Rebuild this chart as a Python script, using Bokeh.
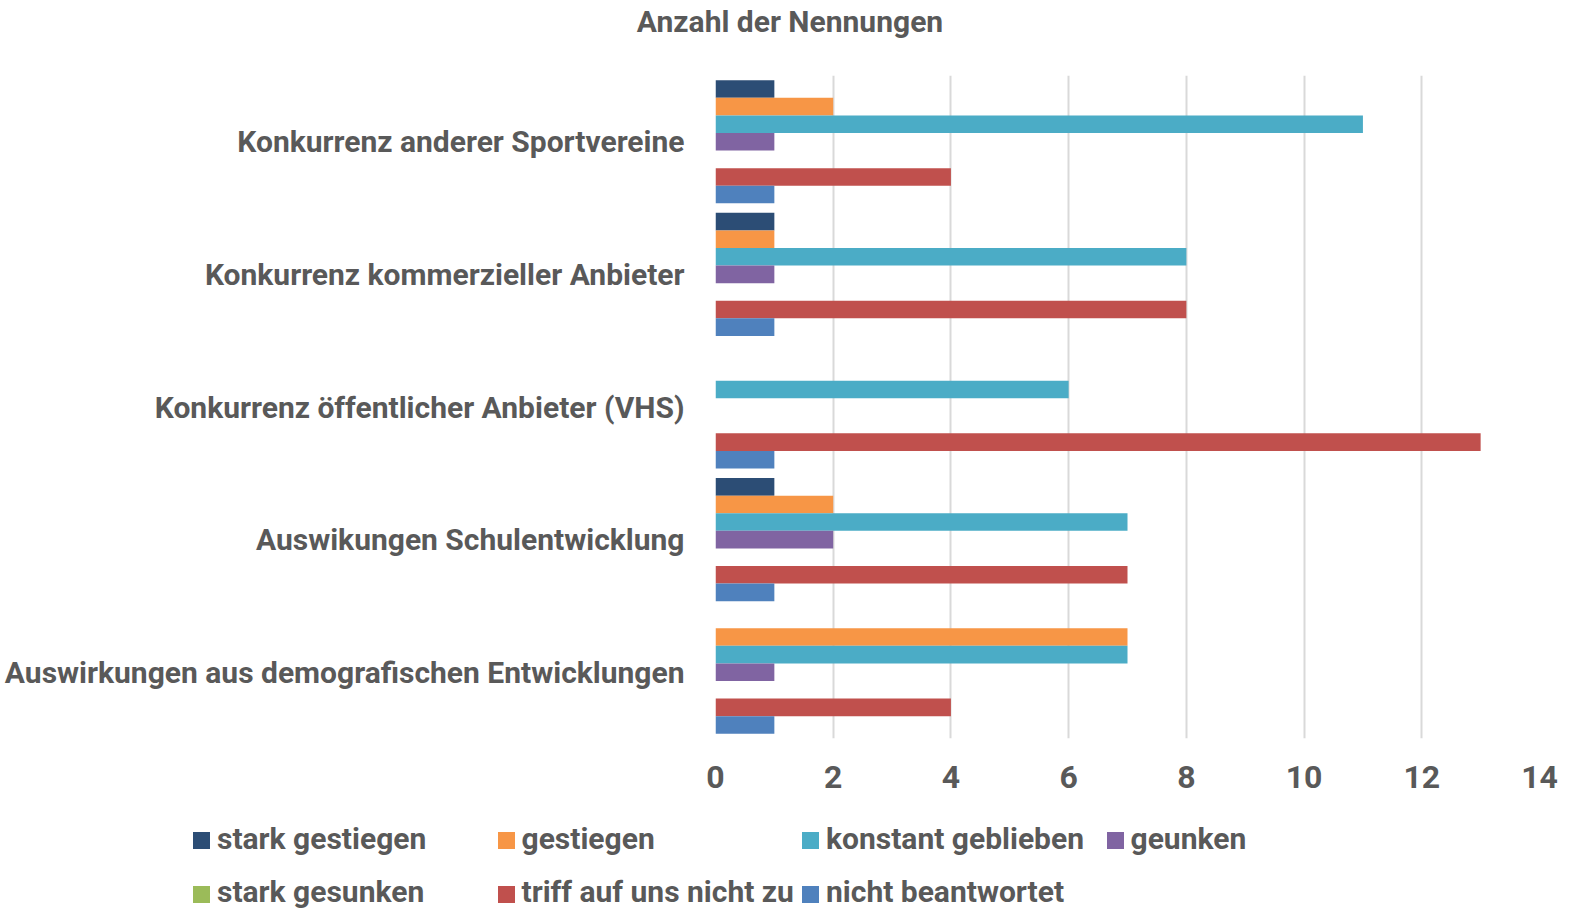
from bokeh.plotting import figure
from bokeh.layouts import column
from bokeh.models import FactorRange, Range1d, FixedTicker, ColumnDataSource, Div
from bokeh.transform import dodge
from bokeh.embed import file_html
from bokeh.resources import INLINE

categories = [
    "Konkurrenz anderer Sportvereine",
    "Konkurrenz kommerzieller Anbieter",
    "Konkurrenz öffentlicher Anbieter (VHS)",
    "Auswikungen Schulentwicklung",
    "Auswirkungen aus demografischen Entwicklungen",
]
series_names = [
    "stark gestiegen",
    "gestiegen",
    "konstant geblieben",
    "geunken",
    "stark gesunken",
    "triff auf uns nicht zu",
    "nicht beantwortet",
]
stark_gestiegen = [1, 1, 0, 1, 0]
gestiegen = [2, 1, 0, 2, 7]
konstant_geblieben = [11, 8, 6, 7, 7]
geunken = [1, 1, 0, 2, 1]
stark_gesunken = [0, 0, 0, 0, 0]
triff_nicht_zu = [4, 8, 13, 7, 4]
nicht_beantwortet = [1, 1, 1, 1, 1]
series_values = [stark_gestiegen, gestiegen, konstant_geblieben, geunken,
                 stark_gesunken, triff_nicht_zu, nicht_beantwortet]
colors = ["#2C4D75", "#F79646", "#4BACC6", "#8064A2", "#9BBB59", "#C0504D", "#4F81BD"]
x_ticks = [0, 2, 4, 6, 8, 10, 12, 14]
title_text = "Anzahl der Nennungen"

FONT = "Roboto"
TXT = "#595959"

# ---- title ----
title_div = Div(
    text=('<div style="width:1558px;margin-left:11px;text-align:center;'
          'font-family:Roboto;font-weight:bold;font-size:30px;color:#595959;'
          'line-height:44px;white-space:nowrap;">%s</div>' % title_text),
    width=1569, height=44, margin=0)

# ---- main chart ----
p = figure(width=1569, height=770,
           y_range=FactorRange(*list(reversed(categories))),
           x_range=Range1d(0, 14),
           output_backend="svg", toolbar_location=None,
           min_border_left=715, min_border_right=30,
           min_border_top=31, min_border_bottom=76)
p.outline_line_color = None
p.background_fill_color = "white"

h = 0.1326
for j, (vals, col) in enumerate(zip(series_values, colors)):
    src = ColumnDataSource(dict(cat=categories, val=vals))
    p.hbar(y=dodge("cat", (3 - j) * h, range=p.y_range), left=0, right="val",
           height=h, fill_color=col, line_color=None, source=src)

ticker = FixedTicker(ticks=x_ticks)
p.xaxis.ticker = ticker
p.xgrid.ticker = ticker
p.xaxis.axis_line_color = None
p.xaxis.major_tick_line_color = None
p.xaxis.major_tick_out = 0
p.xaxis.major_tick_in = 0
p.xaxis.minor_tick_line_color = None
p.xaxis.major_label_text_font = FONT
p.xaxis.major_label_text_font_style = "bold"
p.xaxis.major_label_text_font_size = "32px"
p.xaxis.major_label_text_color = TXT
p.xaxis.major_label_standoff = 27

p.yaxis.axis_line_color = None
p.yaxis.major_tick_line_color = None
p.yaxis.major_tick_out = 0
p.yaxis.major_tick_in = 0
p.yaxis.minor_tick_line_color = None
p.yaxis.major_label_text_font = FONT
p.yaxis.major_label_text_font_style = "bold"
p.yaxis.major_label_text_font_size = "30px"
p.yaxis.major_label_text_color = TXT
p.yaxis.major_label_standoff = 31

p.ygrid.grid_line_color = None
p.xgrid.grid_line_color = "#D9D9D9"
p.xgrid.grid_line_width = 2

# ---- legend (4 columns, 2 rows) ----
col_left = 193
col_pitch = 304.5
row_top = [18, 71.5]
parts = ['<div style="position:relative;width:1569px;height:97px;font-family:Roboto;'
         'font-weight:bold;font-size:30px;color:#595959;">']
for k, (name, col) in enumerate(zip(series_names, colors)):
    r, c = divmod(k, 4)
    x = col_left + c * col_pitch
    y = row_top[r]
    parts.append('<div style="position:absolute;left:%.1fpx;top:%.1fpx;width:17px;'
                 'height:17px;background:%s;"></div>' % (x, y, col))
    parts.append('<div style="position:absolute;left:%.1fpx;top:%.1fpx;line-height:36px;'
                 'white-space:nowrap;">%s</div>' % (x + 24, y - 11.3, name))
parts.append('</div>')
legend_div = Div(text="".join(parts), width=1569, height=97, margin=0)

layout = column(title_div, p, legend_div, spacing=0)
open("out.html", "w").write(file_html(layout, INLINE))
